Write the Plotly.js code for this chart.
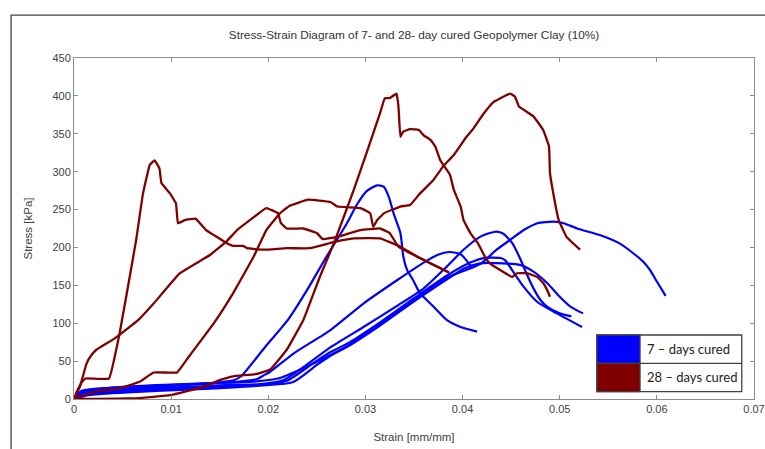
<!DOCTYPE html>
<html>
<head>
<meta charset="utf-8">
<script src="https://cdn.plot.ly/plotly-3.0.1.min.js"></script>
<style>
  html, body { margin: 0; padding: 0; background: #fff; }
  #chart { width: 765px; height: 449px; }
</style>
</head>
<body>
<div id="chart"></div>
<script>
// ---- 28-day cured curves (strain [mm/mm], stress [kPa]) ----
const r1x = [0, 0.0003, 0.0008, 0.0012, 0.0036, 0.0047, 0.0064, 0.0071, 0.0078, 0.0083, 0.0088, 0.0090, 0.0099, 0.0105, 0.0107, 0.0114, 0.0125, 0.0136, 0.0147, 0.0157, 0.0164, 0.0174, 0.0178, 0.0195, 0.0219, 0.0243, 0.0267, 0.0288, 0.0315, 0.0336, 0.0356, 0.0386];
const r1y = [0, 10, 22, 27, 27, 87, 210, 271, 309, 315, 304, 285, 271, 258, 232, 236, 238, 223, 214, 206, 202, 202, 199, 197, 199, 199, 207, 212, 212, 201, 186, 167];

const r2x = [0, 0.0006, 0.0013, 0.0018, 0.0023, 0.0042, 0.0066, 0.0082, 0.0109, 0.0140, 0.0157, 0.0168, 0.0181, 0.0198, 0.0210, 0.0213, 0.0219, 0.0236, 0.0250, 0.0256, 0.0271, 0.0295, 0.0315, 0.0325, 0.0334, 0.0356, 0.0386];
const r2y = [0, 16, 47, 58, 65, 80, 104, 126, 166, 190, 208, 223, 236, 252, 245, 232, 225, 225, 219, 211, 214, 223, 225, 219, 201, 186, 167];

const r3x = [0, 0.0023, 0.0047, 0.0068, 0.0082, 0.0106, 0.0116, 0.0144, 0.0164, 0.0185, 0.0198, 0.0212, 0.0222, 0.0241, 0.0264, 0.0271, 0.0295, 0.0305, 0.0308, 0.0312, 0.0319, 0.0336, 0.0346, 0.0356, 0.0370, 0.0380, 0.0391, 0.0404, 0.0410, 0.0422, 0.0432, 0.0439, 0.0449, 0.0454, 0.0458, 0.0466, 0.0473, 0.0483, 0.0489, 0.0490, 0.0494, 0.0499, 0.0507, 0.0521];
const r3y = [0, 10, 14, 23, 35, 35, 52, 100, 140, 188, 223, 245, 255, 263, 260, 254, 252, 245, 227, 236, 245, 254, 256, 271, 289, 307, 322, 346, 355, 377, 392, 397, 403, 399, 386, 379, 373, 355, 333, 298, 267, 236, 214, 197];

const r4x = [0, 0.0023, 0.0065, 0.0099, 0.0133, 0.0150, 0.0164, 0.0188, 0.0202, 0.0219, 0.0236, 0.0240, 0.0253, 0.0268, 0.0288, 0.0301, 0.0315, 0.0320, 0.0325, 0.0332, 0.0334, 0.0336, 0.0339, 0.0346, 0.0355, 0.0360, 0.0367, 0.0372, 0.0377, 0.0387, 0.0391, 0.0398, 0.0401, 0.0408, 0.0416, 0.0423, 0.0428, 0.0439, 0.0451, 0.0456, 0.0466, 0.0477, 0.0483, 0.0487, 0.0490];
const r4y = [0, 0, 1, 5, 16, 25, 30, 33, 39, 65, 104, 117, 161, 207, 276, 324, 377, 397, 397, 403, 386, 346, 353, 356, 355, 348, 342, 333, 315, 296, 276, 254, 236, 219, 205, 188, 179, 170, 161, 166, 166, 161, 153, 144, 135];

// ---- 7-day cured curves ----
const b1x = [0, 0.0006, 0.003, 0.008, 0.012, 0.015, 0.0165, 0.0172, 0.0197, 0.0220, 0.0240, 0.0260, 0.0281, 0.0291, 0.0301, 0.0312, 0.0319, 0.0324, 0.0329, 0.0336, 0.0339, 0.0343, 0.0349, 0.0356, 0.0370, 0.0384, 0.0398, 0.0415];
const b1y = [0, 9, 13, 16, 19, 22, 25, 30, 69, 104, 144, 188, 232, 256, 274, 282, 280, 267, 245, 219, 188, 170, 157, 140, 122, 104, 95, 89];

const b2x = [0, 0.0008, 0.004, 0.009, 0.013, 0.017, 0.0188, 0.0195, 0.0202, 0.0226, 0.0264, 0.0298, 0.0334, 0.0360, 0.0374, 0.0387, 0.0398, 0.0404, 0.0410];
const b2y = [0, 11, 15, 18, 20, 23, 26, 31, 36, 60, 91, 126, 158, 180, 190, 194, 191, 183, 172];

const b3x = [0, 0.001, 0.005, 0.010, 0.015, 0.0195, 0.0216, 0.0236, 0.0265, 0.0298, 0.0334, 0.0360, 0.0384, 0.0401, 0.0418, 0.0428, 0.0435, 0.0442, 0.0451, 0.0459, 0.0466, 0.0473, 0.0480, 0.0487, 0.0500, 0.0512];
const b3y = [0, 8, 12, 15, 18, 20, 25, 42, 69, 95, 124, 146, 175, 197, 214, 219, 221, 218, 206, 186, 165, 146, 131, 122, 113, 109];

const b4x = [0, 0.0012, 0.005, 0.010, 0.015, 0.0188, 0.0219, 0.0246, 0.0264, 0.0284, 0.0315, 0.0349, 0.0384, 0.0408, 0.0422, 0.0439, 0.0444, 0.0451, 0.0463, 0.0477, 0.0497, 0.0523];
const b4y = [0, 6, 10, 13, 16, 18, 24, 47, 62, 75, 101, 132, 163, 180, 186, 186, 183, 170, 148, 128, 113, 95];

const b5x = [0, 0.0015, 0.006, 0.011, 0.016, 0.0195, 0.0225, 0.0250, 0.0264, 0.0284, 0.0315, 0.0349, 0.0384, 0.0401, 0.0418, 0.0442, 0.0459, 0.0473, 0.0487, 0.0500, 0.0511, 0.0524];
const b5y = [0, 5, 9, 12, 15, 18, 22, 45, 57, 71, 97, 128, 158, 172, 179, 179, 177, 168, 153, 135, 122, 113];

const b6x = [0, 0.001, 0.005, 0.010, 0.014, 0.0185, 0.0210, 0.0235, 0.0264, 0.0284, 0.0315, 0.0349, 0.0384, 0.0418, 0.0435, 0.0449, 0.0463, 0.0477, 0.0494, 0.0504, 0.0518, 0.0542, 0.0562, 0.0576, 0.0586, 0.0593, 0.0600, 0.0609];
const b6y = [0, 10, 16, 19, 21, 23, 27, 40, 58, 72, 99, 130, 160, 178, 197, 210, 223, 232, 234, 232, 225, 216, 205, 192, 181, 170, 155, 136];

const seriesNames = ["7 \u2013 days cured", "28 \u2013 days cured"];
const seriesColors = ["#0000ff", "#800000"];
const xTicks = [0, 0.01, 0.02, 0.03, 0.04, 0.05, 0.06, 0.07];
const xTickText = ["0", "0.01", "0.02", "0.03", "0.04", "0.05", "0.06", "0.07"];

const blueSets = [[b1x, b1y], [b2x, b2y], [b3x, b3y], [b4x, b4y], [b5x, b5y], [b6x, b6y]];
const redSets = [[r1x, r1y], [r2x, r2y], [r3x, r3y], [r4x, r4y]];

const traces = [];
blueSets.forEach(function (s) {
  traces.push({ x: s[0], y: s[1], type: "scatter", mode: "lines", name: seriesNames[0],
    line: { color: seriesColors[0], width: 2.2, shape: "spline", smoothing: 0.6 }, showlegend: false, hoverinfo: "skip" });
});
redSets.forEach(function (s) {
  traces.push({ x: s[0], y: s[1], type: "scatter", mode: "lines", name: seriesNames[1],
    line: { color: seriesColors[1], width: 2.3, shape: "spline", smoothing: 0.25 }, showlegend: false, hoverinfo: "skip" });
});

const axisFont = { family: "Liberation Sans, Arial, sans-serif", size: 11, color: "#404040" };
const axisTitleFont = { family: "Liberation Sans, Arial, sans-serif", size: 11.5, color: "#404040" };

// legend geometry (paper coords)
const Lx0 = 0.769, Lx1 = 0.982, Lsw = 0.8324, Ly0 = 0.0214, Lym = 0.1047, Ly1 = 0.1877;

const layout = {
  width: 765, height: 449,
  margin: { l: 74, r: 11, t: 58, b: 50 },
  paper_bgcolor: "#ffffff", plot_bgcolor: "#ffffff",
  showlegend: false,
  title: { text: "Stress-Strain Diagram of 7- and 28- day cured Geopolymer Clay (10%)",
    font: { family: "Liberation Sans, Arial, sans-serif", size: 11.8, color: "#333333" },
    x: 0.5, xref: "paper", y: 1 - 35 / 449, yref: "container", yanchor: "middle" },
  xaxis: {
    range: [0, 0.07], tickmode: "array", tickvals: xTicks, ticktext: xTickText,
    ticks: "inside", ticklen: 4, tickcolor: "#8c8c8c", mirror: "ticks",
    showline: true, linecolor: "#8c8c8c", linewidth: 1,
    showgrid: false, zeroline: false, tickfont: axisFont,
    title: { text: "Strain [mm/mm]", font: axisTitleFont, standoff: 18 }
  },
  yaxis: {
    range: [0, 450], dtick: 50, tick0: 0,
    ticks: "inside", ticklen: 4, tickcolor: "#8c8c8c", mirror: "ticks",
    showline: true, linecolor: "#8c8c8c", linewidth: 1,
    showgrid: false, zeroline: false, tickfont: axisFont,
    title: { text: "Stress [kPa]", font: axisTitleFont, standoff: 17 }
  },
  shapes: [
    { type: "line", xref: "paper", yref: "paper", x0: -0.0926, x1: -0.0926, y0: 1.126, y1: -0.2,
      line: { color: "#404040", width: 1.3 } },
    { type: "line", xref: "paper", yref: "paper", x0: -0.0926, x1: 1.03, y0: 1.126, y1: 1.126,
      line: { color: "#404040", width: 1.3 } },
    { type: "rect", xref: "paper", yref: "paper", x0: Lx0, x1: Lx1, y0: Ly0, y1: Ly1,
      fillcolor: "#ffffff", line: { color: "#404040", width: 1.3 } },
    { type: "rect", xref: "paper", yref: "paper", x0: Lx0, x1: Lsw, y0: Lym, y1: Ly1,
      fillcolor: seriesColors[0], line: { color: "#404040", width: 1.3 } },
    { type: "rect", xref: "paper", yref: "paper", x0: Lx0, x1: Lsw, y0: Ly0, y1: Lym,
      fillcolor: seriesColors[1], line: { color: "#404040", width: 1.3 } },
    { type: "line", xref: "paper", yref: "paper", x0: Lsw, x1: Lx1, y0: Lym, y1: Lym,
      line: { color: "#404040", width: 1.3 } }
  ],
  annotations: [
    { xref: "paper", yref: "paper", x: Lsw + 0.007, y: (Lym + Ly1) / 2, xanchor: "left", yanchor: "middle",
      text: seriesNames[0], showarrow: false, font: { family: "Lato, Open Sans, sans-serif", size: 13, color: "#222" } },
    { xref: "paper", yref: "paper", x: Lsw + 0.007, y: (Ly0 + Lym) / 2, xanchor: "left", yanchor: "middle",
      text: seriesNames[1], showarrow: false, font: { family: "Lato, Open Sans, sans-serif", size: 13, color: "#222" } }
  ]
};

Plotly.newPlot("chart", traces, layout, { staticPlot: true, displayModeBar: false });
</script>
</body>
</html>
